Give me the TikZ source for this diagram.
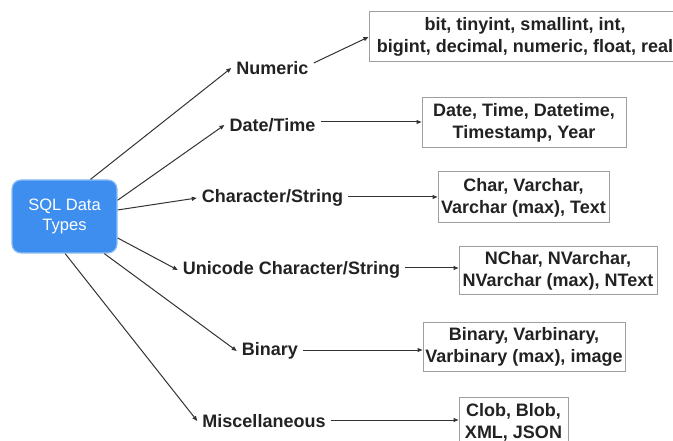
\documentclass[tikz,border=0pt]{standalone}
\usepackage{fontspec}
\setmainfont{Liberation Sans}
\usetikzlibrary{arrows.meta}
\definecolor{sqlblue}{HTML}{3D8EEE}
\definecolor{sqlhalo}{HTML}{8CBDF5}
\definecolor{txt}{HTML}{222222}
\begin{document}
\begin{tikzpicture}[x=1pt,y=-1pt,
  cat/.style={font=\fontsize{18}{22}\selectfont\bfseries, text=txt, inner xsep=5pt, inner ysep=2pt},
  typebox/.style={draw=gray!75, line width=1pt, font=\fontsize{18}{22}\selectfont\bfseries, text=txt, align=center, inner sep=0pt},
  conn/.style={draw=black!80, line width=1pt, -{Triangle[length=5pt,width=4pt]}}]
\useasboundingbox (0,0) rectangle (673,441);
\node[fill=sqlblue, draw=sqlhalo, line width=1.2pt, rounded corners=9pt, minimum width=105pt, minimum height=73pt,
      text=white, align=center, font=\fontsize{16.5}{20}\selectfont, inner sep=0pt] (sql) at (64.5,216.5) {SQL Data\\Types};
% categories
\node[cat] (num)  at (272.5,68)  {Numeric};
\node[cat] (dt)   at (272.5,125) {Date/Time};
\node[cat] (chr)  at (272.5,198) {Character/String};
\node[cat] (uni)  at (291.5,270) {Unicode Character/String};
\node[cat] (bin)  at (270,351)   {Binary};
\node[cat] (misc) at (264,421)   {Miscellaneous};
% type boxes
\node[typebox, minimum width=312pt, minimum height=50pt] (numB) at (525,37) {bit, tinyint, smallint, int,\\bigint, decimal, numeric, float, real};
\node[typebox, minimum width=204pt, minimum height=50pt] (dtB) at (524,123) {Date, Time, Datetime,\\Timestamp, Year};
\node[typebox, minimum width=171pt, minimum height=51pt] (chrB) at (523.5,197.5) {Char, Varchar,\\Varchar (max), Text};
\node[typebox, minimum width=198pt, minimum height=48pt] (uniB) at (558,271) {NChar, NVarchar,\\NVarchar (max), NText};
\node[typebox, minimum width=202pt, minimum height=49pt] (binB) at (524,346.5) {Binary, Varbinary,\\Varbinary (max), image};
\node[typebox, minimum width=109pt, minimum height=50pt] (miscB) at (513.5,422) {Clob, Blob,\\XML, JSON};
% connectors from root
\draw[conn] (sql.55) -- (num.west);
\draw[conn] (sql.17) -- (dt.west);
\draw[conn] (sql.7) -- (chr.west);
\draw[conn] (sql.-22) -- (uni.west);
\draw[conn] (sql.-43.5) -- (bin.west);
\draw[conn] (sql.-89) -- (misc.west);
% connectors to boxes
\draw[conn] ([yshift=5pt]num.east) -- (numB.west);
\draw[conn] ([yshift=3pt]dt.east) -- ([yshift=3pt]dt.east -| dtB.west);
\draw[conn] ([yshift=1pt]chr.east) -- ([yshift=1pt]chr.east -| chrB.west);
\draw[conn] ([yshift=2pt]uni.east) -- ([yshift=2pt]uni.east -| uniB.west);
\draw[conn] ([yshift=1pt]bin.east) -- ([yshift=1pt]bin.east -| binB.west);
\draw[conn] ([yshift=1pt]misc.east) -- ([yshift=1pt]misc.east -| miscB.west);
\end{tikzpicture}
\end{document}
